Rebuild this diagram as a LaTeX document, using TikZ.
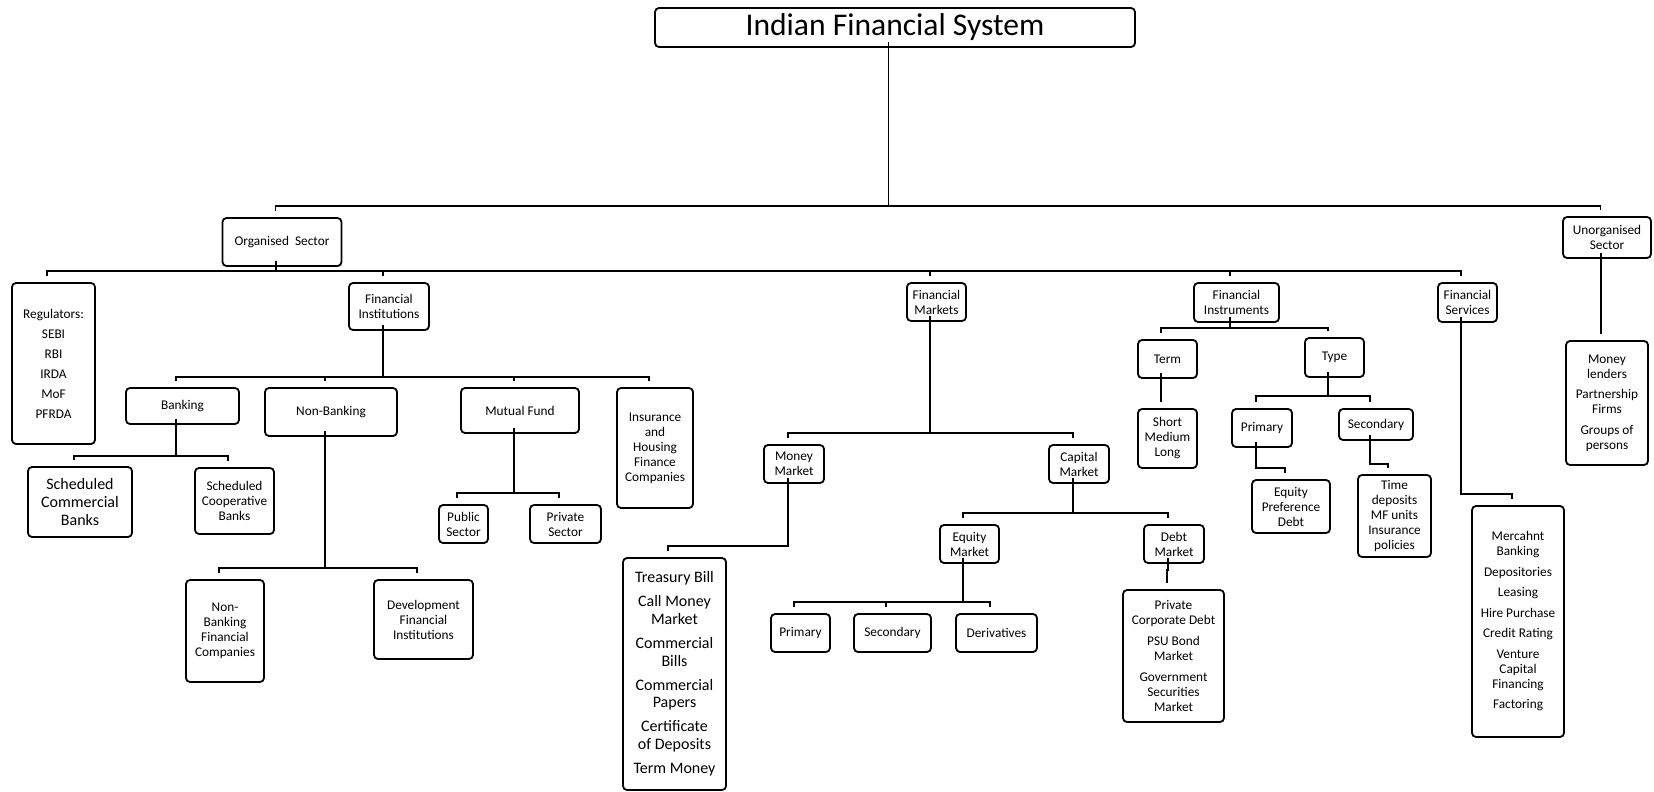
\documentclass[tikz,border=0pt]{standalone}
\usepackage{fontspec}
\setmainfont{Carlito}
\usepackage{tikz}

\begin{document}
\begin{tikzpicture}[x=1pt, y=-1pt,
    box/.style={draw, rounded corners=4pt, line width=1.8pt, align=center, inner sep=0pt,
        font=\fontsize{13.3}{15}\selectfont},
    sz/.style 2 args={minimum width=#1pt, minimum height=#2pt},
    big/.style={font=\fontsize{16}{17.7}\selectfont},
    link/.style={line width=2pt}]
    \useasboundingbox (0,0) rectangle (1654,792);

    % top levels
    \node[box, sz={480}{39}, font=\fontsize{31.6}{34}\selectfont] (root) at (895,27.5) {Indian Financial System};
    \node[box, sz={119}{48}] (org) at (282,242) {Organised~ Sector};
    \node[box, sz={88}{41}] (unorg) at (1607,237.5) {Unorganised\\Sector};

    \node[box, sz={83}{161}] (reg) at (53.5,363.5) {Regulators:\\[5pt]SEBI\\[5pt]RBI\\[5pt]IRDA\\[5pt]MoF\\[5pt]PFRDA};
    \node[box, sz={80}{47}] (finst) at (389,306.5) {Financial\\Institutions};
    \node[box, sz={59}{38}] (fmkt) at (936.5,302) {Financial\\Markets};
    \node[box, sz={85}{39}] (finstr) at (1236.5,302.5) {Financial\\Instruments};
    \node[box, sz={59}{39}] (fserv) at (1467.5,302.5) {Financial\\Services};

    % institutions
    \node[box, sz={113}{36}] (bank) at (182.5,406) {Banking};
    \node[box, sz={132}{48}] (nonbank) at (331,412) {Non-Banking};
    \node[box, sz={118}{45}] (mf) at (520,410.5) {Mutual Fund};
    \node[box, sz={76}{120}] (ins) at (655,448) {Insurance\\and\\Housing\\Finance\\Companies};
    \node[box, big, sz={104}{70}] (scb) at (80,502) {Scheduled\\Commercial\\Banks};
    \node[box, sz={79}{66}] (scoop) at (234.5,501) {Scheduled\\Cooperative\\Banks};
    \node[box, sz={78}{102}] (nbfc) at (225,631) {Non-\\Banking\\Financial\\Companies};
    \node[box, sz={99}{79}] (dfi) at (423.5,619.5) {Development\\Financial\\Institutions};
    \node[box, sz={49}{38}] (pub) at (463.5,524) {Public\\Sector};
    \node[box, sz={71}{38}] (priv) at (565.5,524) {Private\\Sector};

    % markets
    \node[box, sz={60}{38}] (mm) at (794,464) {Money\\Market};
    \node[box, sz={60}{38}] (cm) at (1079,464) {Capital\\Market};
    \node[box, big, sz={103}{232}] (mmlist) at (674.5,674) {Treasury Bill\\[6.3pt]Call Money\\Market\\[6.3pt]Commercial\\Bills\\[6.3pt]Commercial\\Papers\\[6.3pt]Certificate\\of Deposits\\[6.3pt]Term Money};
    \node[box, sz={59}{38}] (eq) at (969.5,544) {Equity\\Market};
    \node[box, sz={60}{38}] (debt) at (1174,544) {Debt\\Market};
    \node[box, sz={59}{38}] (prim) at (800.5,633) {Primary};
    \node[box, sz={77}{38}] (sec) at (892.5,633) {Secondary};
    \node[box, sz={81}{38}] (deriv) at (996.5,633) {Derivatives};
    \node[box, sz={101}{132}] (debtlist) at (1173.5,656) {Private\\Corporate Debt\\[6pt]PSU Bond\\Market\\[6pt]Government\\Securities\\Market};

    % instruments
    \node[box, sz={59}{38}] (term) at (1167.5,359) {Term};
    \node[box, sz={59}{39}] (type) at (1334.5,357.5) {Type};
    \node[box, sz={59}{59}] (sml) at (1167.5,438.5) {Short\\Medium\\Long};
    \node[box, sz={60}{38}] (iprim) at (1262,428) {Primary};
    \node[box, sz={74}{31}] (isec) at (1376,424.5) {Secondary};
    \node[box, sz={78}{53}] (epd) at (1291,506.5) {Equity\\Preference\\Debt};
    \node[box, sz={73}{82}] (tdep) at (1394.5,516) {Time\\deposits\\MF units\\Insurance\\policies};

    % services and unorganised
    \node[box, sz={92}{231}] (fslist) at (1518,621.5) {Mercahnt\\Banking\\[5.5pt]Depositories\\[5.5pt]Leasing\\[5.5pt]Hire Purchase\\[5.5pt]Credit Rating\\[5.5pt]Venture\\Capital\\Financing\\[5.5pt]Factoring};
    \node[box, sz={82}{124}] (ml) at (1607,403) {Money\\lenders\\[5.5pt]Partnership\\Firms\\[5.5pt]Groups of\\persons};

    % connectors: parent/child/level of the bar
    \foreach \p/\c/\y in {root/org/206, root/unorg/206}{
        \coordinate (bar) at (0,\y);
        \draw[link, line width=1.4pt] ([xshift=-6.5pt,yshift=6pt]\p.south) -- ([xshift=-6.5pt]\p.south |- bar) -| ([xshift=-6.5pt,yshift=6pt]\c.north);
    }
    \foreach \p/\c/\y in {org/reg/271, org/finst/271, org/fmkt/271, org/finstr/271, org/fserv/271,
        finst/bank/377, finst/nonbank/377, finst/mf/377, finst/ins/377,
        bank/scb/456, bank/scoop/456, nonbank/nbfc/568, nonbank/dfi/568,
        mf/pub/493, mf/priv/493,
        fmkt/mm/433, fmkt/cm/433, mm/mmlist/546, cm/eq/513, cm/debt/513,
        eq/prim/602, eq/sec/602, eq/deriv/602, debt/debtlist/570,
        finstr/term/328, finstr/type/328, term/sml/390, type/iprim/396, type/isec/396,
        iprim/epd/468, isec/tdep/464, fserv/fslist/494, unorg/ml/330}{
        \coordinate (bar) at (0,\y);
        \draw[link] ([xshift=-6.5pt,yshift=6pt]\p.south) -- ([xshift=-6.5pt]\p.south |- bar) -| ([xshift=-6.5pt,yshift=6pt]\c.north);
    }
\end{tikzpicture}
\end{document}
